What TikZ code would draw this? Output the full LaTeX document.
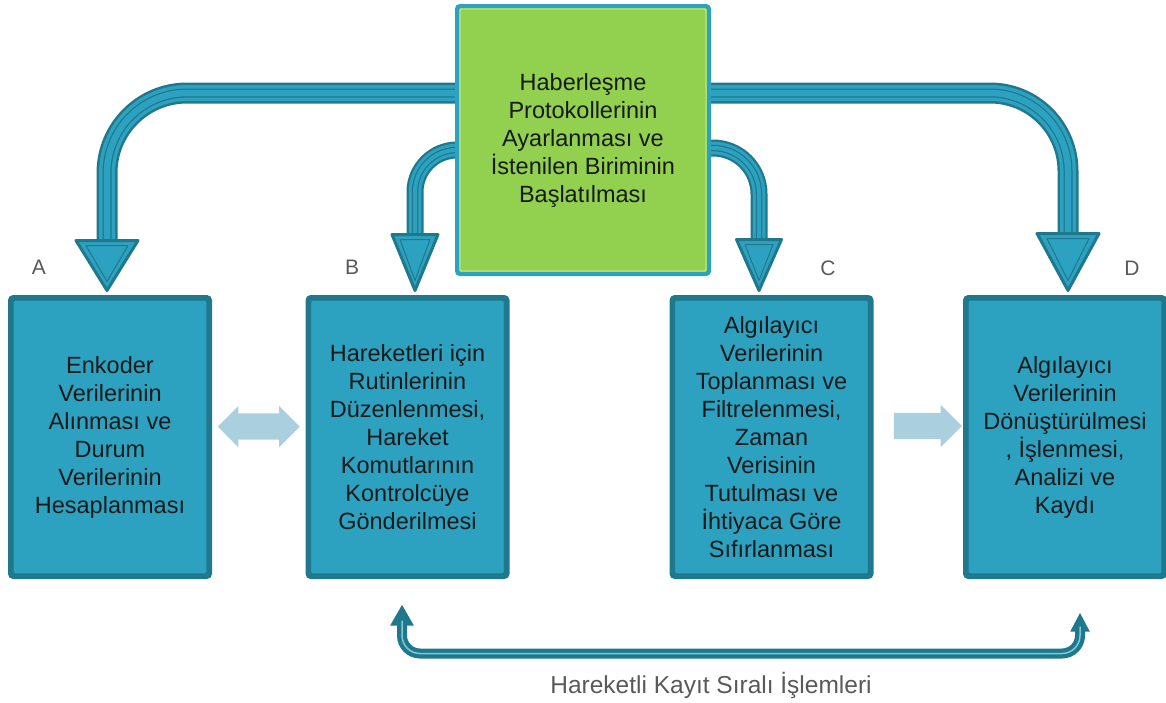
\documentclass[tikz,border=0pt]{standalone}
\usepackage{fontspec}
\setmainfont{Liberation Sans}
\usetikzlibrary{shapes.arrows, arrows.meta, calc, positioning}
\definecolor{boxfill}{HTML}{2CA2C0}
\definecolor{boxdark}{HTML}{1F788C}
\definecolor{topgreen}{HTML}{92D050}
\definecolor{topline}{HTML}{B8E388}
\definecolor{hintblue}{HTML}{AACFDF}
\definecolor{lblgray}{HTML}{595959}
\tikzset{
  % --- Kutular ------------------------------------------------
  stepbox/.style={draw=boxdark, line width=5pt, fill=boxfill, rounded corners=3pt,
    minimum width=199pt, minimum height=279pt, align=center, inner sep=0pt,
    text=black!90, font=\fontsize{23.5}{28}\selectfont},
  topbox/.style={draw=boxfill, line width=4pt, fill=topgreen, rounded corners=3pt,
    minimum width=252pt, minimum height=268pt, align=center, inner sep=0pt,
    text=black!90, font=\fontsize{23.5}{28}\selectfont},
  boxinline/.style={draw=boxdark, line width=1.3pt},
  topinline/.style={draw=topline, line width=1.3pt},
  letter/.style={text=lblgray, font=\fontsize{21}{25}\selectfont, inner sep=0pt},
  seqlbl/.style={text=lblgray, font=\fontsize{24.5}{28}\selectfont, inner sep=0pt},
  % --- Oklar --------------------------------------------------
  headtip/.style={fill=boxfill, draw=boxdark, line width=3pt, line join=round},
  headin/.style={draw=boxdark, line width=1pt, line join=round},
  hint/.style={fill=hintblue, draw=none, inner xsep=0pt, inner ysep=13pt, minimum width=41pt},
  backline/.style={draw=boxdark, line width=10pt, rounded corners=18pt},
  backin/.style={draw=boxfill!60!white, line width=1.5pt, rounded corners=18pt}
}
\begin{document}
\begin{tikzpicture}[x=1pt, y=-1pt]
  \useasboundingbox (0,0) rectangle (1166,702);

  % --- Kutular --------------------------------------------------------
  \node[stepbox] (A) at (110,437) {Enkoder\\Verilerinin\\Alınması ve\\Durum\\Verilerinin\\Hesaplanması};
  \node[stepbox] (B) at (407.5,437) {Hareketleri için\\Rutinlerinin\\Düzenlenmesi,\\Hareket\\Komutlarının\\Kontrolcüye\\Gönderilmesi};
  \node[stepbox] (C) at (771.5,437) {Algılayıcı\\Verilerinin\\Toplanması ve\\Filtrelenmesi,\\Zaman\\Verisinin\\Tutulması ve\\İhtiyaca Göre\\Sıfırlanması};
  \node[stepbox] (D) at (1065,437) {Algılayıcı\\Verilerinin\\Dönüştürülmesi\\, İşlenmesi,\\Analizi ve\\Kaydı};
  \foreach \n in {A,B,C,D}
    \draw[boxinline, rounded corners=2pt] ([shift={(5,5)}]\n.north west) rectangle ([shift={(-5,-5)}]\n.south east);

  \node[letter] (lA) at (39,267) {A};
  \node[letter] (lB) at (352,267) {B};
  \node[letter] (lC) at (828,268) {C};
  \node[letter] (lD) at (1132,268) {D};

  % --- Uc noktalar ----------------------------------------------------
  \coordinate (tA) at ([xshift=-3pt, yshift=4.5pt]A.north);
  \coordinate (tB) at ([xshift=7.5pt, yshift=4.5pt]B.north);
  \coordinate (tC) at ([xshift=-12.5pt, yshift=4.5pt]C.north);
  \coordinate (tD) at ([xshift=3pt, yshift=4.5pt]D.north);
  \coordinate (sA) at (458,93);
  \coordinate (sB) at (458,150);
  \coordinate (sC) at (708,148);
  \coordinate (sD) at (708,93);

  % --- Ust kutudan inen oklar -----------------------------------------
  \foreach \w/\c in {21/boxdark, 16/boxfill, 9/boxdark, 6.5/boxfill} {
    \draw[line width=\w pt, \c, rounded corners=80pt] (sA) -| ($(tA)+(0,-45)$);
    \draw[line width=\w pt, \c, rounded corners=78pt] (sD) -| ($(tD)+(0,-50)$);
  }
  \foreach \w/\c in {17/boxdark, 12.5/boxfill, 6.5/boxdark, 4/boxfill} {
    \draw[line width=\w pt, \c, rounded corners=42pt] (sB) -| ($(tB)+(0,-50)$);
    \draw[line width=\w pt, \c, rounded corners=46pt] (sC) -| ($(tC)+(0,-45)$);
  }

  \filldraw[headtip] ($(tA)+(-31,-50)$) -- ($(tA)+(31,-50)$) -- (tA) -- cycle;
  \draw[headin] ($(tA)+(-21,-45)$) -- ($(tA)+(21,-45)$) -- ($(tA)+(0,-9)$) -- cycle;
  \filldraw[headtip] ($(tB)+(-23,-56)$) -- ($(tB)+(23,-56)$) -- (tB) -- cycle;
  \draw[headin] ($(tB)+(-15,-51)$) -- ($(tB)+(15,-51)$) -- ($(tB)+(0,-10)$) -- cycle;
  \filldraw[headtip] ($(tC)+(-22.5,-51)$) -- ($(tC)+(22.5,-51)$) -- (tC) -- cycle;
  \draw[headin] ($(tC)+(-14,-46)$) -- ($(tC)+(14,-46)$) -- ($(tC)+(0,-10)$) -- cycle;
  \filldraw[headtip] ($(tD)+(-31,-57)$) -- ($(tD)+(31,-57)$) -- (tD) -- cycle;
  \draw[headin] ($(tD)+(-21,-52)$) -- ($(tD)+(21,-52)$) -- ($(tD)+(0,-10)$) -- cycle;

  % --- Ust kutu ---------------------------------------------------------
  \node[topbox] (top) at (583,140) {Haberleşme\\Protokollerinin\\Ayarlanması ve\\İstenilen Biriminin\\Başlatılması};
  \draw[topinline, rounded corners=2pt] ([shift={(5,5)}]top.north west) rectangle ([shift={(-5,-5)}]top.south east);

  % --- Yan oklar --------------------------------------------------------
  \node[hint, double arrow, double arrow head extend=7.5pt, minimum height=82pt] (AB)
    at ($(A.east)!0.5!(B.west)+(0,-10.5)$) {};
  \node[hint, single arrow, single arrow head extend=8pt, minimum height=68pt] (CD)
    at ($(C.east)!0.5!(D.west)+(3,-11)$) {};

  % --- Alttaki geri donus oku -------------------------------------------
  \coordinate (lb) at ([xshift=-5.5pt, yshift=-25.5pt]B.south);
  \coordinate (lm) at ([xshift=-5.5pt, yshift=-74.5pt]B.south);
  \coordinate (rb) at ([xshift=15pt, yshift=-33.5pt]D.south);
  \draw[backline, {Triangle[width=22pt, length=21pt]}-{Triangle[width=18pt, length=19pt]}] (lb) -- (lm) -| (rb);
  \draw[backin] ($(lb)+(0,16)$) -- (lm) -| ($(rb)+(0,14)$);
  \node[seqlbl, anchor=base] (seq) at (711,693) {Hareketli Kayıt Sıralı İşlemleri};

\end{tikzpicture}
\end{document}
